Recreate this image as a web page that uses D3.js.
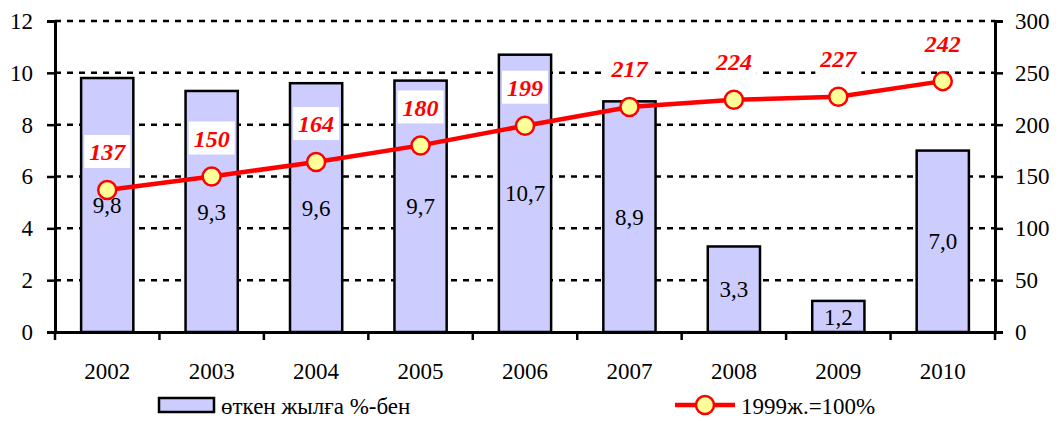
<!DOCTYPE html>
<html>
<head>
<meta charset="utf-8">
<script src="https://cdn.jsdelivr.net/npm/d3@7"></script>
<style>
  body { margin: 0; background: #fff; }
</style>
</head>
<body>
<script>
	//数据
	var years = ["2002", "2003", "2004", "2005", "2006", "2007", "2008", "2009", "2010"];
	var growth = [9.8, 9.3, 9.6, 9.7, 10.7, 8.9, 3.3, 1.2, 7.0];
	var index1999 = [137, 150, 164, 180, 199, 217, 224, 227, 242];
	var leftTicks = [0, 2, 4, 6, 8, 10, 12];
	var rightTicks = [0, 50, 100, 150, 200, 250, 300];
	var barName = "өткен жылға %-бен";
	var lineName = "1999ж.=100%";

	var font = "Times New Roman, Liberation Serif, serif";

	//画布
	var width = 1061, height = 421;
	var svg = d3.select("body").append("svg")
		.attr("width", width)
		.attr("height", height)
		.attr("font-family", font);

	var padding = {left: 55, right: 66, top: 21, bottom: 89};
	var innerW = width - padding.left - padding.right;
	var innerH = height - padding.top - padding.bottom;

	var xScale = d3.scaleBand()
		.domain(years)
		.range([0, innerW])
		.paddingInner(0.5)
		.paddingOuter(0.25);

	var yLeft = d3.scaleLinear().domain([0, 12]).range([innerH, 0]);
	var yRight = d3.scaleLinear().domain([0, 300]).range([innerH, 0]);

	var g = svg.append("g")
		.attr("transform", "translate(" + padding.left + "," + padding.top + ")");

	//网格线
	g.selectAll(".grid")
		.data(leftTicks.slice(1))
		.enter().append("line")
		.attr("x1", 0).attr("x2", innerW)
		.attr("y1", function(d){ return yLeft(d); })
		.attr("y2", function(d){ return yLeft(d); })
		.attr("stroke", "#000")
		.attr("stroke-width", 2.5)
		.attr("stroke-dasharray", "6,6");

	//柱子
	g.selectAll(".bar")
		.data(growth)
		.enter().append("rect")
		.attr("x", function(d, i){ return xScale(years[i]); })
		.attr("y", function(d){ return yLeft(d); })
		.attr("width", xScale.bandwidth())
		.attr("height", function(d){ return innerH - yLeft(d); })
		.attr("fill", "#ccccff")
		.attr("stroke", "#000")
		.attr("stroke-width", 2.5);

	//柱子标签
	g.selectAll(".barLabel")
		.data(growth)
		.enter().append("text")
		.attr("x", function(d, i){ return xScale(years[i]) + xScale.bandwidth() / 2; })
		.attr("y", function(d){ return (yLeft(d) + innerH) / 2; })
		.attr("dy", "0.35em")
		.attr("text-anchor", "middle")
		.style("font-family", font)
		.attr("font-size", 23)
		.text(function(d){ return d.toFixed(1).replace(".", ","); });

	//坐标轴
	var ax = g.append("g").attr("transform", "translate(0," + innerH + ")")
		.call(d3.axisBottom(xScale).tickSize(0).tickFormat(""));
	ax.select(".domain").attr("stroke-width", 3);
	//类别分界刻度
	var bounds = d3.range(years.length + 1).map(function(i){ return i * innerW / years.length; });
	g.selectAll(".xtick")
		.data(bounds)
		.enter().append("line")
		.attr("x1", function(d){ return d; }).attr("x2", function(d){ return d; })
		.attr("y1", innerH).attr("y2", innerH + 8)
		.attr("stroke", "#000").attr("stroke-width", 2.5);
	g.selectAll(".xlabel")
		.data(years)
		.enter().append("text")
		.attr("x", function(d){ return xScale(d) + xScale.bandwidth() / 2; })
		.attr("y", innerH + 47)
		.attr("text-anchor", "middle")
		.style("font-family", font)
		.attr("font-size", 23)
		.text(function(d){ return d; });

	var leftAxis = g.append("g")
		.call(d3.axisLeft(yLeft).tickValues(leftTicks).tickSize(8).tickPadding(14));
	var rightAxis = g.append("g")
		.attr("transform", "translate(" + innerW + ",0)")
		.call(d3.axisRight(yRight).tickValues(rightTicks).tickSize(8).tickPadding(12));
	[leftAxis, rightAxis].forEach(function(a){
		a.attr("font-family", font);
		a.select(".domain").attr("stroke-width", 3);
		a.selectAll(".tick line").attr("stroke-width", 2.5);
		a.selectAll(".tick text")
			.attr("font-size", 23)
			.style("font-family", font)
			.attr("fill", "#000");
	});

	//折线
	var cx = function(d, i){ return xScale(years[i]) + xScale.bandwidth() / 2; };
	var line = d3.line()
		.x(cx)
		.y(function(d){ return yRight(d); });
	g.append("path")
		.datum(index1999)
		.attr("d", line)
		.attr("fill", "none")
		.attr("stroke", "#ff0000")
		.attr("stroke-width", 4.5);
	g.selectAll(".dot")
		.data(index1999)
		.enter().append("circle")
		.attr("cx", cx)
		.attr("cy", function(d){ return yRight(d); })
		.attr("r", 9)
		.attr("fill", "#ffff99")
		.attr("stroke", "#ff0000")
		.attr("stroke-width", 2.5);

	//折线标签（白底）
	var lbl = g.selectAll(".lineLabel")
		.data(index1999)
		.enter().append("g")
		.attr("transform", function(d, i){
			return "translate(" + cx(d, i) + "," + (yRight(d) - 38) + ")";
		});
	lbl.append("rect")
		.attr("x", -23).attr("y", -17)
		.attr("width", 46).attr("height", 33)
		.attr("fill", "#fff");
	lbl.append("text")
		.attr("text-anchor", "middle")
		.attr("dy", "0.35em")
		.style("font-family", font)
		.attr("font-size", 24)
		.attr("font-weight", "bold")
		.attr("font-style", "italic")
		.attr("fill", "#ff0000")
		.text(function(d){ return d; });

	//图例
	var legend = svg.append("g");
	legend.append("rect")
		.attr("x", 159).attr("y", 398)
		.attr("width", 55).attr("height", 14)
		.attr("fill", "#ccccff")
		.attr("stroke", "#000")
		.attr("stroke-width", 2.5);
	legend.append("text")
		.attr("x", 221).attr("y", 414)
		.style("font-family", font)
		.attr("font-size", 23)
		.text(barName);
	legend.append("line")
		.attr("x1", 675).attr("x2", 735)
		.attr("y1", 405).attr("y2", 405)
		.attr("stroke", "#ff0000").attr("stroke-width", 4.5);
	legend.append("circle")
		.attr("cx", 705).attr("cy", 405).attr("r", 9)
		.attr("fill", "#ffff99")
		.attr("stroke", "#ff0000").attr("stroke-width", 2.5);
	legend.append("text")
		.attr("x", 741).attr("y", 414)
		.style("font-family", font)
		.attr("font-size", 23)
		.text(lineName);
</script>
</body>
</html>
